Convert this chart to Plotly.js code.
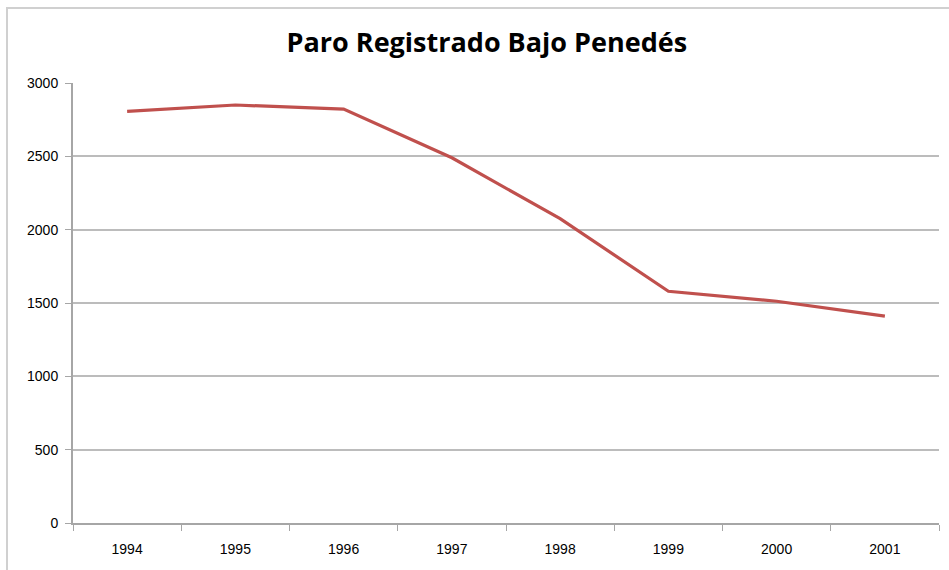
<!DOCTYPE html>
<html>
<head>
<meta charset="utf-8">
<script src="https://cdn.plot.ly/plotly-3.0.1.min.js"></script>
<style>
  html, body { margin: 0; padding: 0; background: #fff; }
  #wrap { position: relative; width: 949px; height: 570px; }
  #chart { width: 949px; height: 570px; }
  #frame { position: absolute; left: 6px; top: 7px; width: 960px; height: 600px;
           border-left: 2px solid #d0d0d0; border-top: 2px solid #d0d0d0; pointer-events: none; }
</style>
</head>
<body>
<div id="wrap">
  <div id="chart"></div>
  <div id="frame"></div>
</div>
<script>
const years = ['1994', '1995', '1996', '1997', '1998', '1999', '2000', '2001'];
const paro = [2806, 2850, 2822, 2490, 2075, 1580, 1512, 1410];
const yTicks = [0, 500, 1000, 1500, 2000, 2500, 3000];

const trace = {
  x: years,
  y: paro,
  type: 'scatter',
  mode: 'lines',
  line: { color: '#c0504d', width: 3.2 },
  hoverinfo: 'x+y'
};

const layout = {
  width: 949,
  height: 570,
  margin: { l: 73, r: 10, t: 83, b: 47 },
  paper_bgcolor: '#ffffff',
  plot_bgcolor: '#ffffff',
  showlegend: false,
  title: {
    text: '<b>Paro Registrado Bajo Penedés</b>',
    font: { family: 'Open Sans, Liberation Sans, sans-serif', size: 27, color: '#000000' },
    x: 0.513, xanchor: 'center', y: 0.926, yanchor: 'middle'
  },
  xaxis: {
    type: 'category',
    tickson: 'boundaries',
    ticks: 'outside',
    ticklen: 6,
    tickcolor: '#a6a6a6',
    ticklabelstandoff: 12,
    showline: true,
    linecolor: '#a6a6a6',
    linewidth: 2,
    showgrid: false,
    zeroline: false,
    tickfont: { family: 'Liberation Sans Narrow, Liberation Sans, sans-serif', size: 14, color: '#000000' },
    range: [-0.5, 7.5],
    fixedrange: true
  },
  yaxis: {
    range: [0, 3000],
    tickvals: yTicks,
    ticktext: yTicks.map(String),
    ticks: 'outside',
    ticklen: 6,
    tickcolor: '#a6a6a6',
    ticklabelstandoff: 4,
    showline: true,
    linecolor: '#a6a6a6',
    linewidth: 2,
    showgrid: true,
    gridcolor: '#bcbcbc',
    gridwidth: 2,
    zeroline: false,
    tickfont: { family: 'Liberation Sans Narrow, Liberation Sans, sans-serif', size: 14, color: '#000000' },
    fixedrange: true
  }
};

Plotly.newPlot('chart', [trace], layout, { displayModeBar: false, staticPlot: true });
</script>
</body>
</html>
